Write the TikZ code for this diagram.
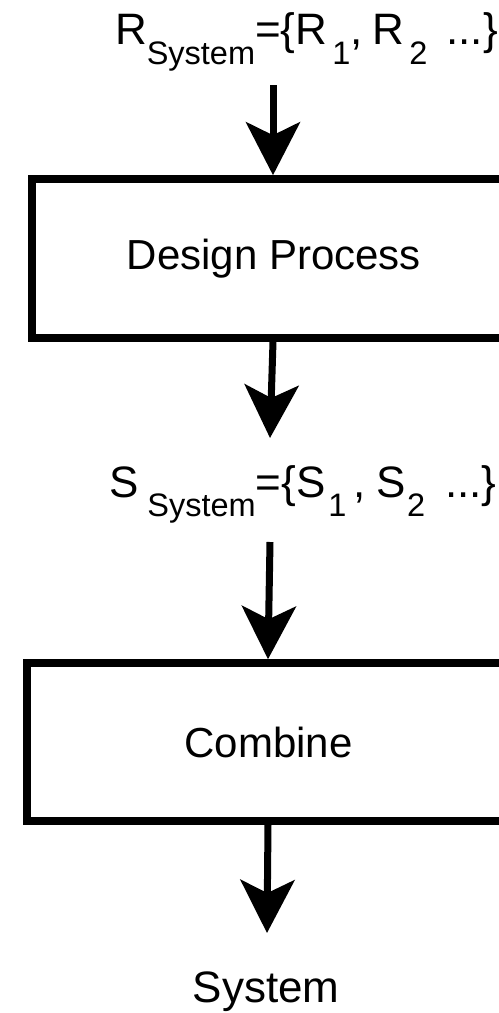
\documentclass[tikz,border=0pt]{standalone}
\usepackage{fontspec}
\setmainfont{Liberation Sans}
\usetikzlibrary{arrows.meta}

% subscript set lower and smaller than the main line
\newcommand\lowsub[2]{\raisebox{#1}{\fontsize{32.5bp}{33bp}\selectfont #2}}

\tikzset{
  label/.style={inner sep=0pt, outer sep=0pt, font=\fontsize{44bp}{50bp}\selectfont},
  procbox/.style={draw=black, line width=7.6bp, rectangle, inner sep=0pt,
                  font=\fontsize{42bp}{48bp}\selectfont},
  flow/.style={line width=7bp, -{Stealth[length=53bp, width=54bp, inset=13bp]}}
}

\begin{document}
\begin{tikzpicture}[x=1bp, y=-1bp]
  \clip (0,0) rectangle (499,1013);
  \fill[white] (0,0) rectangle (499,1013);

  % requirement set
  \node[label, anchor=base west] (req) at (115,44)
    {R\lowsub{-20bp}{System}=\{R\hspace{5bp}\lowsub{-20bp}{1},\hspace{10bp}R\hspace{5bp}\lowsub{-20bp}{2}\hspace{19bp}...\}};

  % design step
  \node[procbox, minimum width=484bp, minimum height=159bp] (design) at (274,258.5) {Design Process};

  % solution set
  \node[label, anchor=base west] (sol) at (109,497)
    {S\hspace{9bp}\lowsub{-19bp}{System}=\{S\hspace{3bp}\lowsub{-19bp}{1}\hspace{7bp},\hspace{11bp}S\hspace{1bp}\lowsub{-19bp}{2}\hspace{20bp}...\}};

  % combination step
  \node[procbox, minimum width=483bp, minimum height=158bp] (combine) at (268.5,742) {Combine};

  % resulting system
  \node[label, anchor=base] (sys) at (266,1002) {System};

  % connector ends near the text labels
  \coordinate (a1s) at (273,85);
  \coordinate (a2e) at (270,438);
  \coordinate (a3s) at (270,542);
  \coordinate (a4e) at (267,933);

  \draw[flow] (a1s) -- (a1s |- design.north);
  \draw[flow] (design.south -| a1s) -- (a2e);
  \draw[flow] (a3s) -- (combine.north -| 268,0);
  \draw[flow] (combine.south -| 268,0) -- (a4e);
\end{tikzpicture}
\end{document}
